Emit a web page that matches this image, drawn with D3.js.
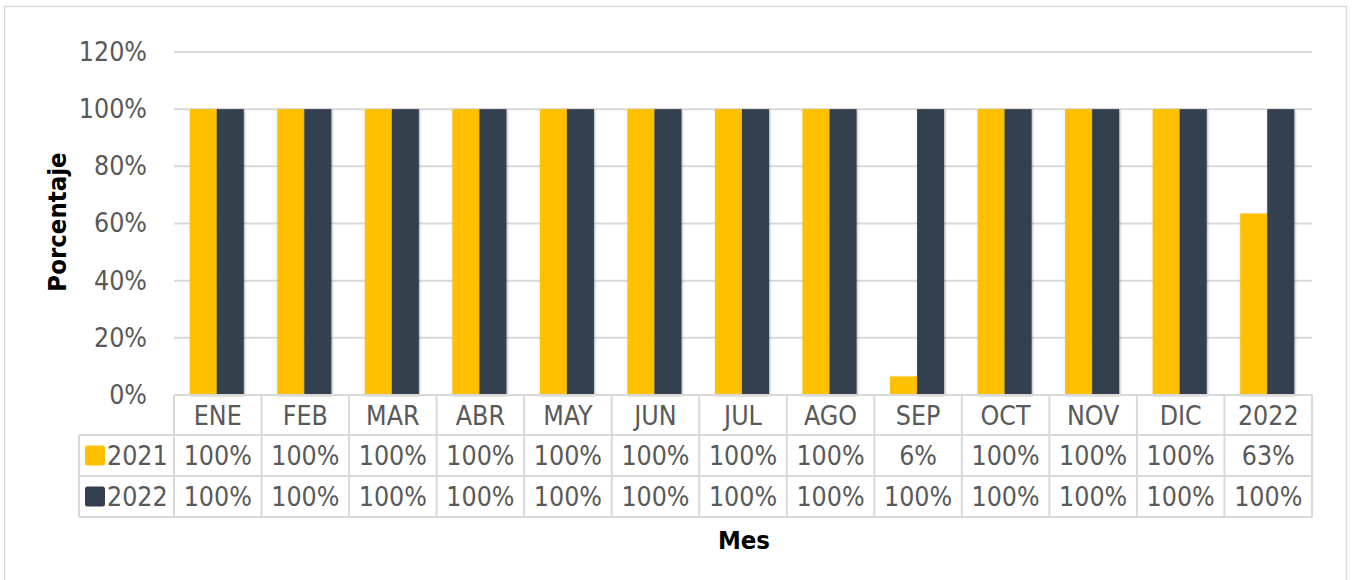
<!DOCTYPE html>
<html>
<head>
<meta charset="utf-8">
<script src="https://cdn.jsdelivr.net/npm/d3@7"></script>
<style>
  body { margin: 0; background: #fff; }
  svg text { font-family: "DejaVu Sans Condensed", "DejaVu Sans", sans-serif; font-stretch: condensed; }
</style>
</head>
<body>
<svg width="1352" height="580"></svg>
<script>
// data
var months = ["ENE", "FEB", "MAR", "ABR", "MAY", "JUN", "JUL", "AGO", "SEP", "OCT", "NOV", "DIC", "2022"];
var seriesNames = ["2021", "2022"];
var values2021 = [1, 1, 1, 1, 1, 1, 1, 1, 0.0649, 1, 1, 1, 0.6349];
var values2022 = [1, 1, 1, 1, 1, 1, 1, 1, 1, 1, 1, 1, 1];
var colors = ["#FFC000", "#333F50"];
var yTicks = [0, 0.2, 0.4, 0.6, 0.8, 1.0, 1.2];

var series = [values2021, values2022];

var svg = d3.select("svg"),
  width = +svg.attr("width"),
  height = +svg.attr("height");

var plotLeft = 174, plotRight = 1312, plotTop = 52, plotBottom = 395;
var rowH = [40, 41, 41];
var tableLeft = 79;
var fs = 26.5;

var pct = d3.format(".0%");

// outer frame
svg.append("rect")
  .attr("x", 4.5).attr("y", 6.5)
  .attr("width", 1342).attr("height", 590)
  .attr("fill", "#fff").attr("stroke", "#D9D9D9").attr("stroke-width", 1.5);

var defs = svg.append("defs");
defs.append("filter").attr("id", "shadow")
  .attr("x", "-20%").attr("y", "-5%").attr("width", "140%").attr("height", "110%")
  .append("feDropShadow")
  .attr("dx", 0.8).attr("dy", 0.8).attr("stdDeviation", 0.8)
  .attr("flood-color", "#000").attr("flood-opacity", 0.35);

// scales
var x = d3.scaleBand().domain(months).range([plotLeft, plotRight]);
var x1 = d3.scaleBand().domain(seriesNames).range([-1, x.bandwidth() - 1]).paddingOuter(0.62);
var y = d3.scaleLinear().domain([0, 1.2]).range([plotBottom, plotTop]);

// gridlines
svg.append("g")
  .selectAll("line")
  .data(yTicks.filter(function(d) { return d > 0; }))
  .enter().append("line")
    .attr("x1", plotLeft).attr("x2", plotRight)
    .attr("y1", function(d) { return y(d); })
    .attr("y2", function(d) { return y(d); })
    .attr("stroke", "#D9D9D9").attr("stroke-width", 2);

// y axis labels
var yAxis = d3.axisLeft(y).tickValues(yTicks).tickFormat(pct).tickSize(0).tickPadding(0);
var ya = svg.append("g").attr("transform", "translate(147,0)").call(yAxis);
ya.select(".domain").remove();
ya.selectAll("text")
  .attr("font-size", fs).attr("fill", "#595959")
  .style("font-family", "'DejaVu Sans Condensed', 'DejaVu Sans', sans-serif");

// bars
series.forEach(function(vals, si) {
  svg.append("g")
    .selectAll("rect")
    .data(vals)
    .enter().append("rect")
      .attr("x", function(d, i) { return x(months[i]) + x1(seriesNames[si]); })
      .attr("y", function(d) { return y(d); })
      .attr("width", x1.bandwidth())
      .attr("height", function(d) { return y(0) - y(d); })
      .attr("fill", colors[si])
      .attr("filter", "url(#shadow)");
});

// data table
var table = svg.append("g");
var rowTop = [plotBottom, plotBottom + rowH[0], plotBottom + rowH[0] + rowH[1]];
var tableBottom = rowTop[2] + rowH[2];
var lc = "#D9D9D9";

// horizontal lines
table.append("line").attr("x1", plotLeft).attr("x2", plotRight).attr("y1", plotBottom).attr("y2", plotBottom)
  .attr("stroke", lc).attr("stroke-width", 2);
[rowTop[1], rowTop[2], tableBottom].forEach(function(yy) {
  table.append("line").attr("x1", tableLeft).attr("x2", plotRight).attr("y1", yy).attr("y2", yy)
    .attr("stroke", lc).attr("stroke-width", 2);
});
// vertical lines
months.forEach(function(m) {
  table.append("line").attr("x1", x(m)).attr("x2", x(m)).attr("y1", plotBottom).attr("y2", tableBottom)
    .attr("stroke", lc).attr("stroke-width", 2);
});
table.append("line").attr("x1", plotRight).attr("x2", plotRight).attr("y1", plotBottom).attr("y2", tableBottom)
  .attr("stroke", lc).attr("stroke-width", 2);
table.append("line").attr("x1", tableLeft).attr("x2", tableLeft).attr("y1", rowTop[1]).attr("y2", tableBottom)
  .attr("stroke", lc).attr("stroke-width", 2);

// header row
table.append("g").selectAll("text")
  .data(months).enter().append("text")
    .attr("x", function(d) { return x(d) + x.bandwidth() / 2; })
    .attr("y", rowTop[0] + rowH[0] / 2)
    .attr("dy", "0.36em")
    .attr("text-anchor", "middle")
    .attr("font-size", fs).attr("fill", "#595959")
    .text(function(d) { return d; });

// series rows
series.forEach(function(vals, si) {
  var cy = rowTop[si + 1] + rowH[si + 1] / 2;
  table.append("rect")
    .attr("x", 85).attr("y", cy - 10)
    .attr("width", 20).attr("height", 20).attr("rx", 2.5)
    .attr("fill", colors[si]);
  table.append("text")
    .attr("x", 107).attr("y", cy).attr("dy", "0.36em")
    .attr("font-size", fs).attr("fill", "#595959")
    .text(seriesNames[si]);
  table.append("g").selectAll("text")
    .data(vals).enter().append("text")
      .attr("x", function(d, i) { return x(months[i]) + x.bandwidth() / 2; })
      .attr("y", cy)
      .attr("dy", "0.36em")
      .attr("text-anchor", "middle")
      .attr("font-size", fs).attr("fill", "#595959")
      .text(function(d) { return pct(d); });
});

// axis titles
svg.append("text")
  .attr("transform", "translate(66,222) rotate(-90)")
  .attr("text-anchor", "middle")
  .attr("font-size", 25.5).attr("font-weight", "bold").attr("fill", "#000")
  .text("Porcentaje");

svg.append("text")
  .attr("x", 744).attr("y", 549)
  .attr("text-anchor", "middle")
  .attr("font-size", 25.5).attr("font-weight", "bold").attr("fill", "#000")
  .text("Mes");
</script>
</body>
</html>
